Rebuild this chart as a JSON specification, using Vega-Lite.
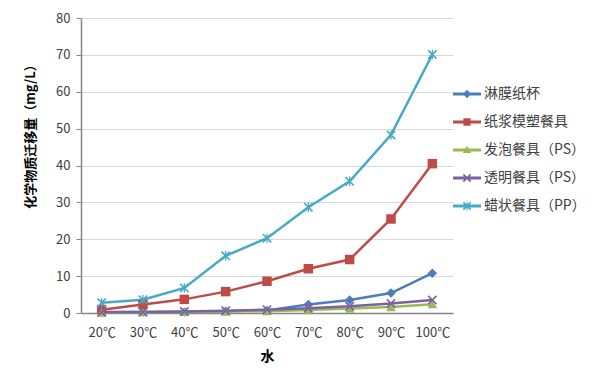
{
  "$schema": "https://vega.github.io/schema/vega-lite/v6.json",
  "width": 372,
  "height": 295,
  "autosize": "none",
  "padding": {"left": 81, "top": 18, "right": 147, "bottom": 59},
  "background": "white",
  "config": {"view": {"stroke": null}, "font": "Noto Sans CJK SC"},
  "data": {
    "values": [
      {"t": "20℃", "s": "淋膜纸杯", "v": 0.3},
      {"t": "30℃", "s": "淋膜纸杯", "v": 0.3},
      {"t": "40℃", "s": "淋膜纸杯", "v": 0.3},
      {"t": "50℃", "s": "淋膜纸杯", "v": 0.5},
      {"t": "60℃", "s": "淋膜纸杯", "v": 0.7},
      {"t": "70℃", "s": "淋膜纸杯", "v": 2.3},
      {"t": "80℃", "s": "淋膜纸杯", "v": 3.5},
      {"t": "90℃", "s": "淋膜纸杯", "v": 5.4},
      {"t": "100℃", "s": "淋膜纸杯", "v": 10.8},
      {"t": "20℃", "s": "纸浆模塑餐具", "v": 0.9},
      {"t": "30℃", "s": "纸浆模塑餐具", "v": 2.3},
      {"t": "40℃", "s": "纸浆模塑餐具", "v": 3.7},
      {"t": "50℃", "s": "纸浆模塑餐具", "v": 5.8},
      {"t": "60℃", "s": "纸浆模塑餐具", "v": 8.6},
      {"t": "70℃", "s": "纸浆模塑餐具", "v": 12.0},
      {"t": "80℃", "s": "纸浆模塑餐具", "v": 14.5},
      {"t": "90℃", "s": "纸浆模塑餐具", "v": 25.5},
      {"t": "100℃", "s": "纸浆模塑餐具", "v": 40.5},
      {"t": "20℃", "s": "发泡餐具（PS）", "v": 0.1},
      {"t": "30℃", "s": "发泡餐具（PS）", "v": 0.2},
      {"t": "40℃", "s": "发泡餐具（PS）", "v": 0.3},
      {"t": "50℃", "s": "发泡餐具（PS）", "v": 0.4},
      {"t": "60℃", "s": "发泡餐具（PS）", "v": 0.5},
      {"t": "70℃", "s": "发泡餐具（PS）", "v": 0.8},
      {"t": "80℃", "s": "发泡餐具（PS）", "v": 1.2},
      {"t": "90℃", "s": "发泡餐具（PS）", "v": 1.6},
      {"t": "100℃", "s": "发泡餐具（PS）", "v": 2.4},
      {"t": "20℃", "s": "透明餐具（PS）", "v": 0.2},
      {"t": "30℃", "s": "透明餐具（PS）", "v": 0.3},
      {"t": "40℃", "s": "透明餐具（PS）", "v": 0.4},
      {"t": "50℃", "s": "透明餐具（PS）", "v": 0.6},
      {"t": "60℃", "s": "透明餐具（PS）", "v": 0.9},
      {"t": "70℃", "s": "透明餐具（PS）", "v": 1.3},
      {"t": "80℃", "s": "透明餐具（PS）", "v": 1.8},
      {"t": "90℃", "s": "透明餐具（PS）", "v": 2.6},
      {"t": "100℃", "s": "透明餐具（PS）", "v": 3.5},
      {"t": "20℃", "s": "蜡状餐具（PP）", "v": 2.8},
      {"t": "30℃", "s": "蜡状餐具（PP）", "v": 3.6},
      {"t": "40℃", "s": "蜡状餐具（PP）", "v": 6.8},
      {"t": "50℃", "s": "蜡状餐具（PP）", "v": 15.5},
      {"t": "60℃", "s": "蜡状餐具（PP）", "v": 20.3},
      {"t": "70℃", "s": "蜡状餐具（PP）", "v": 28.7},
      {"t": "80℃", "s": "蜡状餐具（PP）", "v": 35.7},
      {"t": "90℃", "s": "蜡状餐具（PP）", "v": 48.3},
      {"t": "100℃", "s": "蜡状餐具（PP）", "v": 70.1}
    ]
  },
  "encoding": {
    "x": {
      "field": "t", "type": "ordinal", "sort": null,
      "scale": {"type": "point", "padding": 0.5},
      "axis": {
        "title": "水", "titleFontSize": 14, "titleFontWeight": "bold", "titleColor": "#000000", "titlePadding": 10,
        "labelAngle": 0, "labelFontSize": 13, "labelColor": "#404040", "labelPadding": 13,
        "ticks": false, "domainColor": "#868686", "domainWidth": 1.5, "grid": false
      }
    },
    "y": {
      "field": "v", "type": "quantitative",
      "scale": {"domain": [0, 80], "nice": false},
      "axis": {
        "title": "化学物质迁移量（mg/L）", "titleFontSize": 13, "titleFontWeight": "bold", "titleColor": "#000000", "titlePadding": 18,
        "titleY": 115,
        "values": [0, 10, 20, 30, 40, 50, 60, 70, 80],
        "labelFontSize": 13, "labelColor": "#404040", "labelPadding": 6,
        "tickSize": 5, "tickColor": "#868686", "domainColor": "#868686", "domainWidth": 1.5,
        "grid": true, "gridColor": "#d9d9d9"
      }
    }
  },
  "resolve": {"legend": {"color": "independent", "shape": "independent"}},
  "layer": [
    {
      "mark": {"type": "line", "strokeWidth": 2.5},
      "encoding": {
        "color": {
          "field": "s", "type": "nominal",
          "scale": {"domain": ["淋膜纸杯", "纸浆模塑餐具", "发泡餐具（PS）", "透明餐具（PS）", "蜡状餐具（PP）"],
                    "range": ["#4a7ebb", "#be4b48", "#98b954", "#7d60a0", "#46aac5"]},
          "legend": null
        }
      }
    },
    {
      "mark": {"type": "point", "filled": true, "opacity": 1, "size": 90},
      "encoding": {
        "color": {
          "field": "s", "type": "nominal",
          "scale": {"domain": ["淋膜纸杯", "纸浆模塑餐具", "发泡餐具（PS）", "透明餐具（PS）", "蜡状餐具（PP）"],
                    "range": ["#4a7ebb", "#be4b48", "#98b954", "#7d60a0", "#46aac5"]},
          "legend": null
        },
        "shape": {
          "field": "s", "type": "nominal",
          "scale": {"domain": ["淋膜纸杯", "纸浆模塑餐具", "发泡餐具（PS）", "透明餐具（PS）", "蜡状餐具（PP）"],
                    "range": ["diamond", "square", "triangle-up",
                              "M-1,-0.75L-0.75,-1L1,0.75L0.75,1ZM-1,0.75L0.75,-1L1,-0.75L-0.75,1Z",
                              "M-1,-0.75L-0.75,-1L1,0.75L0.75,1ZM-1,0.75L0.75,-1L1,-0.75L-0.75,1ZM-0.13,-1L0.13,-1L0.13,1L-0.13,1Z"]},
          "legend": null
        }
      }
    },
    {
      "mark": {"type": "point", "filled": true, "opacity": 0, "size": 1},
      "encoding": {
        "color": {
          "field": "s", "type": "nominal",
          "scale": {"domain": ["淋膜纸杯", "纸浆模塑餐具", "发泡餐具（PS）", "透明餐具（PS）", "蜡状餐具（PP）"],
                    "range": ["#4a7ebb", "#be4b48", "#98b954", "#7d60a0", "#46aac5"]},
          "legend": {
            "orient": "none", "legendX": 372, "legendY": 62, "title": null,
            "symbolSize": 784, "symbolStrokeWidth": 0, "symbolOpacity": 1,
            "labelFontSize": 14, "labelColor": "#404040", "labelOffset": 3, "rowPadding": 7,
            "encode": {
              "symbols": {
                "update": {
                  "opacity": {"value": 1},
                  "shape": {"signal": "datum.value === '淋膜纸杯' ? 'M-1,-0.1L1,-0.1L1,0.1L-1,0.1ZM0,-0.3L0.3,0L0,0.3L-0.3,0Z' : datum.value === '纸浆模塑餐具' ? 'M-1,-0.1L1,-0.1L1,0.1L-1,0.1ZM-0.26,-0.26L0.26,-0.26L0.26,0.26L-0.26,0.26Z' : datum.value === '发泡餐具（PS）' ? 'M-1,-0.1L1,-0.1L1,0.1L-1,0.1ZM0,-0.3L0.3,0.22L-0.3,0.22Z' : datum.value === '透明餐具（PS）' ? 'M-1,-0.1L1,-0.1L1,0.1L-1,0.1ZM-0.3,-0.22L-0.22,-0.3L0.3,0.22L0.22,0.3ZM-0.3,0.22L0.22,-0.3L0.3,-0.22L-0.22,0.3Z' : 'M-1,-0.1L1,-0.1L1,0.1L-1,0.1ZM-0.3,-0.22L-0.22,-0.3L0.3,0.22L0.22,0.3ZM-0.3,0.22L0.22,-0.3L0.3,-0.22L-0.22,0.3ZM-0.04,-0.3L0.04,-0.3L0.04,0.3L-0.04,0.3Z'"}
                }
              }
            }
          }
        }
      }
    }
  ]
}
